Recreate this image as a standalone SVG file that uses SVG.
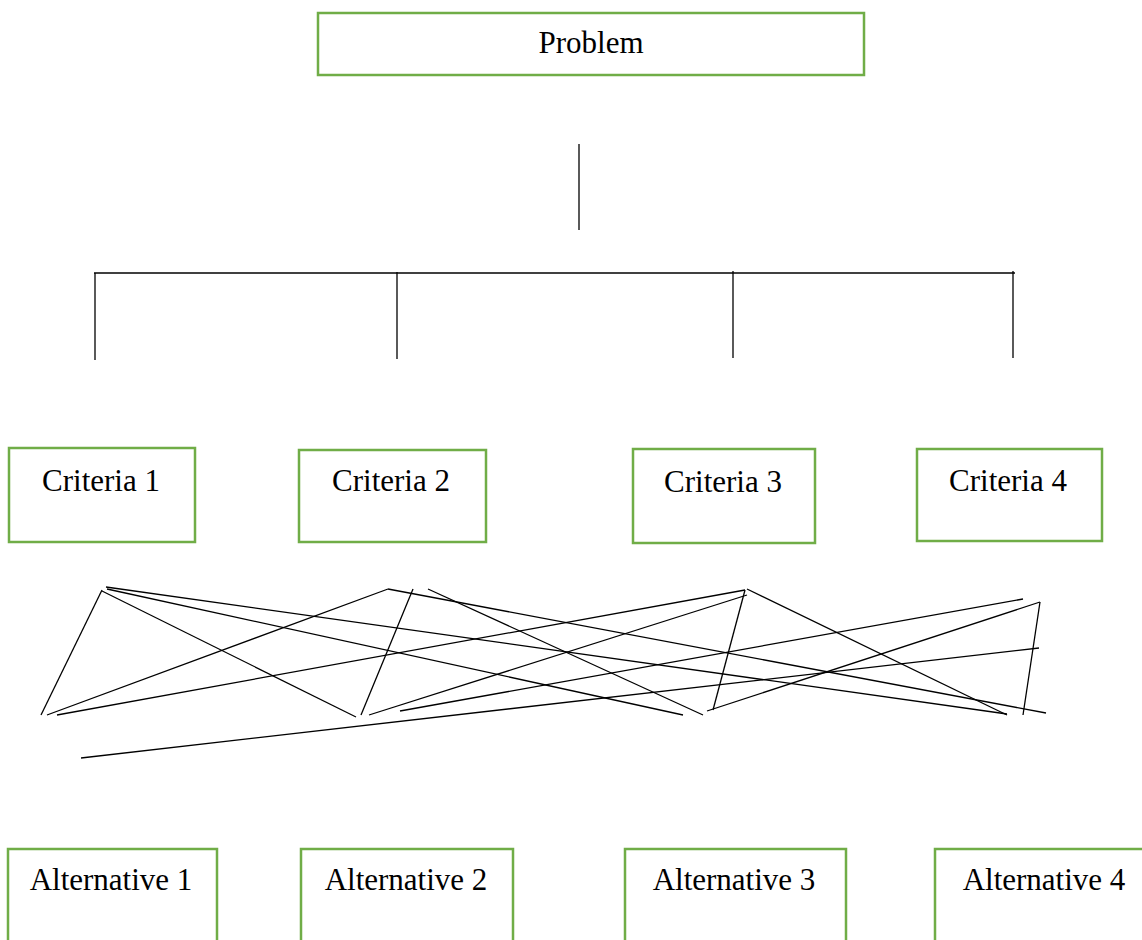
<svg xmlns="http://www.w3.org/2000/svg" width="1142" height="940" viewBox="0 0 1142 940">
<style>
.box{fill:#fff;stroke:#70AD47;stroke-width:2.5}
.lbl{font-family:"Liberation Serif","Times New Roman",serif;font-size:31px;fill:#000;text-anchor:middle}
.ln{stroke:#000;stroke-width:1.3;fill:none}
</style>
<rect width="1142" height="940" fill="#fff"/>
<g id="connectors">
<line class="ln" x1="579" y1="144" x2="579" y2="230"/>
<line class="ln" x1="94" y1="273" x2="1015" y2="273" stroke-width="1.6"/>
<line class="ln" x1="95" y1="273" x2="95" y2="360"/>
<line class="ln" x1="397" y1="272" x2="397" y2="359"/>
<line class="ln" x1="733" y1="271" x2="733" y2="358"/>
<line class="ln" x1="1013" y1="271" x2="1013" y2="358"/>
<line class="ln" x1="102" y1="590" x2="41" y2="715"/>
<line class="ln" x1="106" y1="587" x2="1007" y2="714"/>
<line class="ln" x1="107" y1="589" x2="683" y2="715"/>
<line class="ln" x1="102" y1="591" x2="356" y2="717"/>
<line class="ln" x1="47" y1="715" x2="388" y2="589"/>
<line class="ln" x1="57" y1="715" x2="745" y2="590"/>
<line class="ln" x1="361" y1="715" x2="413" y2="589"/>
<line class="ln" x1="369" y1="715" x2="747" y2="595"/>
<line class="ln" x1="388" y1="589" x2="1046" y2="713"/>
<line class="ln" x1="428" y1="589" x2="703" y2="715"/>
<line class="ln" x1="400" y1="711" x2="1023" y2="599"/>
<line class="ln" x1="81" y1="758" x2="1039" y2="648"/>
<line class="ln" x1="745" y1="590" x2="713" y2="710"/>
<line class="ln" x1="707" y1="711" x2="1040" y2="602"/>
<line class="ln" x1="747" y1="589" x2="1007" y2="715"/>
<line class="ln" x1="1040" y1="602" x2="1023" y2="715"/>
</g>
<g id="problem"><rect class="box" x="318" y="13" width="546" height="62"/><text class="lbl" x="591" y="53">Problem</text></g>
<g id="criteria1"><rect class="box" x="9" y="448" width="186" height="94"/><text class="lbl" x="101" y="491">Criteria 1</text></g>
<g id="criteria2"><rect class="box" x="299" y="450" width="187" height="92"/><text class="lbl" x="391" y="491">Criteria 2</text></g>
<g id="criteria3"><rect class="box" x="633" y="449" width="182" height="94"/><text class="lbl" x="723" y="492">Criteria 3</text></g>
<g id="criteria4"><rect class="box" x="917" y="449" width="185" height="92"/><text class="lbl" x="1008" y="491">Criteria 4</text></g>
<g id="alternative1"><rect class="box" x="8" y="849" width="209" height="120"/><text class="lbl" x="111" y="890">Alternative 1</text></g>
<g id="alternative2"><rect class="box" x="301" y="849" width="212" height="120"/><text class="lbl" x="406" y="890">Alternative 2</text></g>
<g id="alternative3"><rect class="box" x="625" y="849" width="221" height="120"/><text class="lbl" x="734" y="890">Alternative 3</text></g>
<g id="alternative4"><rect class="box" x="935" y="849" width="230" height="120"/><text class="lbl" x="1044" y="890">Alternative 4</text></g>
</svg>
